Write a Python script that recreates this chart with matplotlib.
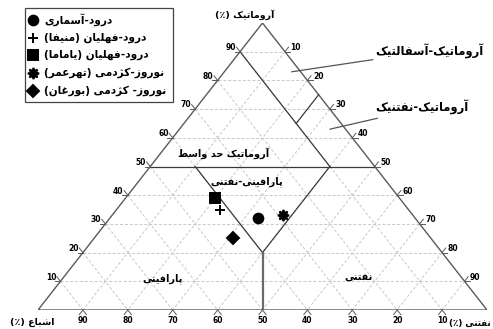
import matplotlib.pyplot as plt
from matplotlib.patches import Rectangle

# composition of the oil samples (percent)
groups = ['درود-آسماری', 'درود-فهلیان (منیفا)', 'درود-فهلیان (یاماما)',
          'نوروز-کژدمی (تهرعمر)', 'نوروز- کژدمی (بورغان)']
symbols = ['o', '+', 's', (8, 1, 0), 'D']
sizes = [7, 7, 6.5, 8, 6.5]
saturate = [35, 42, 41, 29, 44]
aromatic = [32, 35, 39, 33, 25]
naphthenic = [33, 23, 20, 38, 31]

tick_values = [10, 20, 30, 40, 50, 60, 70, 80, 90]

# classification fields: boundaries as (saturate, aromatic, naphthenic) pairs
boundaries = [
    ((50, 50, 0), (0, 50, 50)),
    ((10, 90, 0), (10, 50, 40)),
    ((40, 50, 10), (40, 20, 40)),
    ((10, 50, 40), (40, 20, 40)),
    ((10, 65, 25), (0, 75, 25)),
]
stem = ((40, 20, 40), (50, 0, 50))

FORMS = {
    'ا': ('\ufe8d', '\ufe8e'), 'آ': ('\ufe81', '\ufe82'),
    'د': ('\ufea9', '\ufeaa'), 'ر': ('\ufead', '\ufeae'),
    'ز': ('\ufeaf', '\ufeb0'), 'ژ': ('\ufb8a', '\ufb8b'),
    'و': ('\ufeed', '\ufeee'),
    'ب': ('\ufe8f', '\ufe90', '\ufe91', '\ufe92'),
    'پ': ('\ufb56', '\ufb57', '\ufb58', '\ufb59'),
    'ت': ('\ufe95', '\ufe96', '\ufe97', '\ufe98'),
    'ح': ('\ufea1', '\ufea2', '\ufea3', '\ufea4'),
    'س': ('\ufeb1', '\ufeb2', '\ufeb3', '\ufeb4'),
    'ش': ('\ufeb5', '\ufeb6', '\ufeb7', '\ufeb8'),
    'ط': ('\ufec1', '\ufec2', '\ufec3', '\ufec4'),
    'ع': ('\ufec9', '\ufeca', '\ufecb', '\ufecc'),
    'غ': ('\ufecd', '\ufece', '\ufecf', '\ufed0'),
    'ف': ('\ufed1', '\ufed2', '\ufed3', '\ufed4'),
    'ک': ('\ufb8e', '\ufb8f', '\ufb90', '\ufb91'),
    'ك': ('\ufed9', '\ufeda', '\ufedb', '\ufedc'),
    'ل': ('\ufedd', '\ufede', '\ufedf', '\ufee0'),
    'م': ('\ufee1', '\ufee2', '\ufee3', '\ufee4'),
    'ن': ('\ufee5', '\ufee6', '\ufee7', '\ufee8'),
    'ه': ('\ufee9', '\ufeea', '\ufeeb', '\ufeec'),
    'ی': ('\ufbfc', '\ufbfd', '\ufbfe', '\ufbff'),
    'ي': ('\ufef1', '\ufef2', '\ufef3', '\ufef4'),
}
MIRROR = {'(': ')', ')': '('}


def fa(s):
    # join letters into contextual forms, then lay out right to left
    out = []
    for i, c in enumerate(s):
        f = FORMS.get(c)
        if f is None:
            out.append(MIRROR.get(c, c))
            continue
        prev = s[i - 1] if i > 0 else ''
        nxt = s[i + 1] if i + 1 < len(s) else ''
        jp = prev in FORMS and len(FORMS[prev]) == 4
        jn = len(f) == 4 and nxt in FORMS
        if jp and jn:
            out.append(f[3])
        elif jp:
            out.append(f[1])
        elif jn:
            out.append(f[2])
        else:
            out.append(f[0])
    return ''.join(reversed(out))


def tern(s, a, n):
    return (n + a / 2) / 100, a / 100


plt.rcParams['font.family'] = ['DejaVu Sans']
plt.rcParams['font.weight'] = 'bold'

fig = plt.figure(figsize=(4.93, 3.29), dpi=100)
ax = fig.add_axes([38 / 493, 19 / 329, 449 / 493, 287 / 329])
ax.set_xlim(0, 1)
ax.set_ylim(0, 1)
ax.axis('off')

grid_kw = dict(color='#c8c8c8', lw=0.7, ls=(0, (3, 2)), zorder=1)
for v in tick_values:
    for p, q in [((100 - v, v, 0), (0, v, 100 - v)),
                 ((v, 100 - v, 0), (v, 0, 100 - v)),
                 ((0, 100 - v, v), (100 - v, 0, v))]:
        (x0, y0), (x1, y1) = tern(*p), tern(*q)
        ax.plot([x0, x1], [y0, y1], **grid_kw)

# triangle frame
corners = [tern(100, 0, 0), tern(0, 100, 0), tern(0, 0, 100), tern(100, 0, 0)]
ax.plot([c[0] for c in corners], [c[1] for c in corners], color='#5a5a5a', lw=1.0, zorder=3)

for p, q in boundaries:
    (x0, y0), (x1, y1) = tern(*p), tern(*q)
    ax.plot([x0, x1], [y0, y1], color='#3a3a3a', lw=0.9, zorder=3)
(x0, y0), (x1, y1) = tern(*stem[0]), tern(*stem[1])
ax.plot([x0, x1], [y0, y1], color='#6a6a6a', lw=1.6, zorder=3)

# ticks and tick labels on the three sides
tk = dict(color='#5a5a5a', lw=0.7, clip_on=False, zorder=3)
lab = dict(fontsize=5.5, fontweight='bold', textcoords='offset points')
for v in tick_values:
    x, y = tern(100 - v, v, 0)
    ax.plot([x, x - 0.012], [y, y], **tk)
    ax.plot([x, x - 0.008], [y, y + 0.016], **tk)
    ax.annotate(str(v), (x, y), xytext=(-3, 3), ha='right', va='center', **lab)
    x, y = tern(0, 100 - v, v)
    ax.plot([x, x + 0.012], [y, y], **tk)
    ax.plot([x, x + 0.008], [y, y + 0.016], **tk)
    ax.annotate(str(v), (x, y), xytext=(4, 3), ha='left', va='center', **lab)
    x, y = tern(v, 0, 100 - v)
    ax.plot([x, x + 0.008], [y, y - 0.016], **tk)
    ax.plot([x, x - 0.008], [y, y - 0.016], **tk)
    ax.annotate(str(v), (x, y), xytext=(0, -7.5), ha='center', va='center', **lab)

# samples
for s, a, n, m, ms in zip(saturate, aromatic, naphthenic, symbols, sizes):
    x, y = tern(s, a, n)
    ax.plot(x, y, marker=m, ms=ms, color='black', mec='black', mew=1.4, zorder=5)

# field names
fields = [('آروماتیک حد واسط', 0.414, 0.547), ('پارافینی-نفتنی', 0.465, 0.446),
          ('پارافینی', 0.278, 0.111), ('نفتنی', 0.713, 0.111)]
for t, x, y in fields:
    ax.text(x, y, fa(t), fontsize=7, fontweight='bold', ha='center', va='center')

line_kw = dict(arrowstyle='-', color='#555555', lw=0.9, shrinkA=0, shrinkB=0)
ax.annotate(fa('آروماتیک-آسفالتیک'), tern(2, 83, 15), xytext=(0.752, 0.902),
            ha='left', va='center', fontsize=8.3, fontweight='bold',
            arrowprops=line_kw, annotation_clip=False)
ax.annotate(fa('آروماتیک-نفتنیک'), tern(3.5, 63, 33.5), xytext=(0.752, 0.704),
            ha='left', va='center', fontsize=8.3, fontweight='bold',
            arrowprops=line_kw, annotation_clip=False)

# axis titles
ax.text(0.461, 1.028, fa('آروماتیک (٪)'), fontsize=6.8, fontweight='bold', ha='center', va='center')
ax.text(-0.013, -0.045, fa('اشباع (٪)'), fontsize=6.8, fontweight='bold', ha='center', va='center')
ax.text(1.008, -0.045, fa('نفتنی (٪)'), fontsize=6.3, fontweight='bold', ha='right', va='center')

# legend box
leg = fig.add_axes([0, 0, 1, 1])
leg.set_xlim(0, 493)
leg.set_ylim(329, 0)
leg.axis('off')
leg.add_patch(Rectangle((25, 8), 148, 94, fill=False, ec='#444444', lw=0.9))
rows = [20, 38, 55, 73, 91]
for g, m, ms, ry in zip(groups, symbols, sizes, rows):
    leg.plot(33, ry, marker=m, ms=ms, color='black', mew=1.4)
    leg.text(44, ry, fa(g), fontsize=7.6, fontweight='bold', ha='left', va='center')

fig.savefig('out.png', dpi=100)
